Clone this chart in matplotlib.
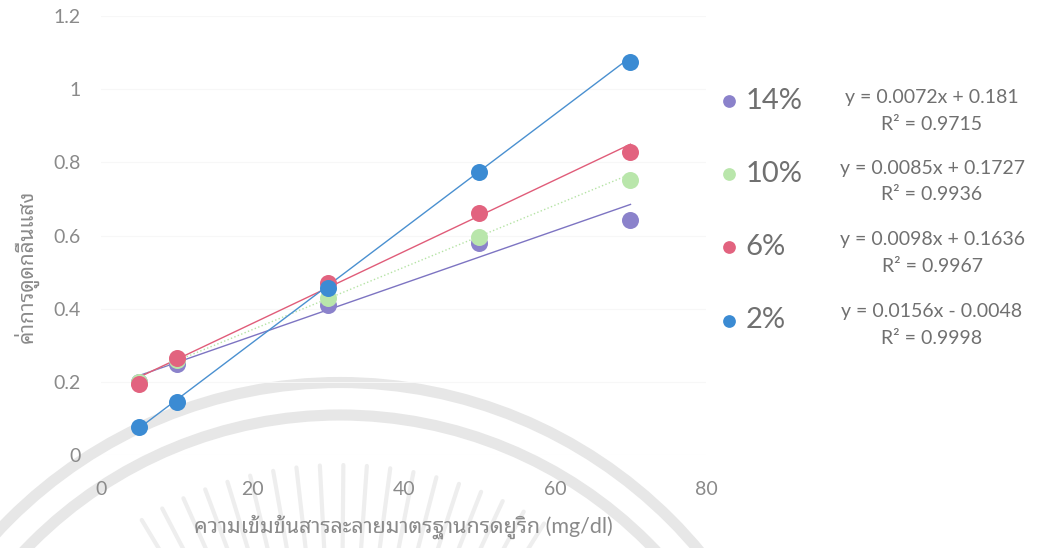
import numpy as np
import matplotlib
matplotlib.use("Agg")
import matplotlib.pyplot as plt
from matplotlib.patches import Arc

plt.rcParams['font.family'] = ['Lato', 'Noto Sans Thai Looped', 'DejaVu Sans']

# standard uric acid concentration (mg/dl)
x = [5, 10, 30, 50, 70]
series = ['14%', '10%', '6%', '2%']
y14 = [0.20, 0.25, 0.41, 0.58, 0.642]
y10 = [0.20, 0.26, 0.43, 0.596, 0.751]
y6 = [0.194, 0.265, 0.470, 0.661, 0.828]
y2 = [0.076, 0.145, 0.456, 0.773, 1.074]
ys = [y14, y10, y6, y2]

# trendline coefficients shown on the chart
slopes = [0.0072, 0.0085, 0.0098, 0.0156]
intercepts = [0.181, 0.1727, 0.1636, -0.0048]
r2 = [0.9715, 0.9936, 0.9967, 0.9998]

colors = ['#8b82cb', '#b9e6ab', '#e2637f', '#3b8bd3']
line_colors = ['#7d74c2', '#b5e3a5', '#e05c79', '#4a90d0']
line_styles = ['-', ':', '-', '-']

fig = plt.figure(figsize=(10.43, 5.48), dpi=100)

# faint watermark behind the chart
bg = fig.add_axes([0, 0, 1, 1], zorder=0)
bg.set_xlim(0, 1043)
bg.set_ylim(548, 0)
bg.axis('off')
for r in (935, 870):
    bg.add_patch(Arc((340, 850), r, r, theta1=180, theta2=360,
                     color='#e7e7e7', lw=8))
for a in np.arange(58, 123, 3.5):
    t = np.radians(a)
    bg.plot([340 + 290 * np.cos(t), 340 + 385 * np.cos(t)],
            [850 - 290 * np.sin(t), 850 - 385 * np.sin(t)],
            color='#eeeeee', lw=3, solid_capstyle='round')

ax = fig.add_axes([0.097, 0.1697, 0.58, 0.8011], zorder=1)
ax.patch.set_alpha(0)

xs = np.array([min(x), max(x)])
for i in range(4):
    ax.scatter(x, ys[i], s=150, color=colors[i], label=series[i],
               zorder=3 + i, linewidths=0)
    ax.plot(xs, slopes[i] * xs + intercepts[i], color=line_colors[i],
            ls=line_styles[i], lw=1.0, zorder=2)

ax.set_xlim(0, 80)
ax.set_ylim(0, 1.2)
ax.set_xticks([0, 20, 40, 60, 80])
ax.set_yticks([0, 0.2, 0.4, 0.6, 0.8, 1.0, 1.2])
ax.set_yticklabels(['0', '0.2', '0.4', '0.6', '0.8', '1', '1.2'])
for s in ax.spines.values():
    s.set_visible(False)
ax.tick_params(length=0, labelsize=14, labelcolor='#8a8a8a')
ax.tick_params(axis='x', pad=19)
ax.tick_params(axis='y', pad=15)
ax.grid(axis='y', color='#f7f7f7', lw=0.8)
ax.set_axisbelow(True)

ax.set_xlabel('ความเข้มข้นสารละลายมาตรฐานกรดยูริก (mg/dl)',
              fontsize=15.5, color='#8a8a8a')
ax.xaxis.set_label_coords(0.5, -0.135)
ax.set_ylabel('ค่าการดูดกลืนแสง', fontsize=15, color='#8a8a8a')
ax.yaxis.set_label_coords(-0.104, 0.43)

handles, labels = ax.get_legend_handles_labels()
leg = fig.legend(handles, labels, loc='upper left',
                 bbox_to_anchor=(0.66, 0.888), frameon=False,
                 fontsize=21, labelcolor='#707070', markerscale=0.75,
                 labelspacing=1.62, handletextpad=0.05, handlelength=1.0)

eq_y = [97, 168, 240, 312]
for i in range(4):
    sign = '+' if intercepts[i] >= 0 else '-'
    eq = f'y = {slopes[i]}x {sign} {abs(intercepts[i])}'
    fig.text(932 / 1043, 1 - eq_y[i] / 548, eq, ha='center', va='center',
             fontsize=14, color='#707070')
    fig.text(932 / 1043, 1 - (eq_y[i] + 27) / 548, f'R² = {r2[i]}',
             ha='center', va='center', fontsize=14, color='#707070')

fig.savefig('out.png')
